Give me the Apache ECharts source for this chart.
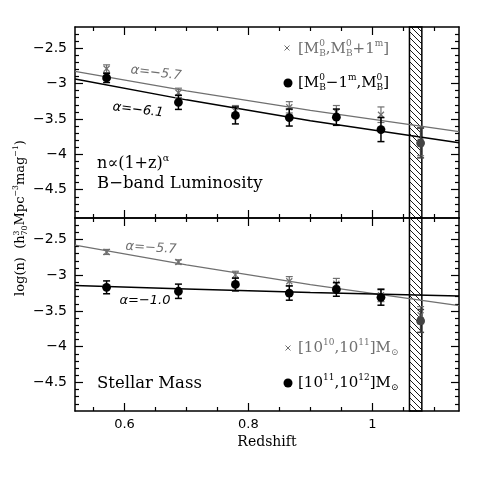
<!DOCTYPE html>
<html>
<head>
<meta charset="UTF-8">
<title>log(n) vs redshift</title>
<script src="https://cdn.jsdelivr.net/npm/echarts@6/dist/echarts.min.js"></script>
<style>
  html, body { margin: 0; background: #fff; }
  #chart { width: 485px; height: 485px; }
</style>
</head>
<body>
<div id="chart"></div>
<script>
// redshift bins
var redshift = [0.571, 0.687, 0.779, 0.866, 0.942, 1.014, 1.078];

// B-band luminosity panel
var lumBright = [-2.92, -3.265, -3.45, -3.48, -3.475, -3.65, -3.84];
var lumBrightErr = [0.065, 0.10, 0.12, 0.12, 0.115, 0.17, 0.21];
var lumFaint = [-2.79, -3.13, -3.39, -3.335, -3.40, -3.44, -3.82];
var lumFaintErr = [0.055, 0.065, 0.08, 0.08, 0.09, 0.11, 0.2];

// stellar mass panel
var massHigh = [-3.17, -3.225, -3.13, -3.25, -3.20, -3.31, -3.64];
var massHighErr = [0.09, 0.10, 0.09, 0.10, 0.095, 0.11, 0.16];
var massLow = [-2.675, -2.815, -2.995, -3.085, -3.12, -3.28, -3.56];
var massLowErr = [0.035, 0.03, 0.05, 0.065, 0.075, 0.09, 0.12];

// power law fits
var fitZ = [0.52, 0.7, 0.9, 1.14];
var lumFaintFit = [-2.827, -3.104, -3.379, -3.68];
var lumBrightFit = [-2.935, -3.23, -3.525, -3.835];
var massLowFit = [-2.58, -2.857, -3.132, -3.427];
var massHighFit = [-3.145, -3.193, -3.242, -3.29];

// incomplete redshift band
var band = [1.06, 1.08];

// ticks
var xMajor = [0.6, 0.8, 1.0];
var xMinor = [0.55, 0.65, 0.7, 0.75, 0.85, 0.9, 0.95, 1.05, 1.1];
var yMajor = [-4.5, -4, -3.5, -3, -2.5];
var yMinor = [-4.8, -4.7, -4.6, -4.4, -4.3, -4.2, -4.1, -3.9, -3.8, -3.7, -3.6,
              -3.4, -3.3, -3.2, -3.1, -2.9, -2.8, -2.7, -2.6, -2.4, -2.3];

var GREY = '#707070';
var chart = echarts.init(document.getElementById('chart'));

var hatch = document.createElement('canvas');
hatch.width = 6; hatch.height = 6;
var hc = hatch.getContext('2d');
hc.strokeStyle = '#000'; hc.lineWidth = 0.9;
hc.beginPath();
hc.moveTo(0, 0); hc.lineTo(6, 6);
hc.moveTo(-3, 3); hc.lineTo(3, 9);
hc.moveTo(3, -3); hc.lineTo(9, 3);
hc.stroke();

function xAxes(g) {
  return [
    { pos: 'bottom', len: 8, vals: xMajor, line: true, label: g === 1 },
    { pos: 'bottom', len: 4, vals: xMinor },
    { pos: 'top', len: 8, vals: xMajor, line: true },
    { pos: 'top', len: 4, vals: xMinor }
  ].map(function (a) {
    return {
      type: 'value', gridIndex: g, position: a.pos, min: 0.52, max: 1.14,
      axisLine: { show: !!a.line, onZero: false, lineStyle: { color: '#000', width: 1.5 } },
      axisTick: { show: true, inside: true, length: a.len, customValues: a.vals, lineStyle: { color: '#000', width: 1.2 } },
      axisLabel: { show: !!a.label, customValues: a.vals, margin: 7, color: '#000', fontFamily: 'DejaVu Sans', fontSize: 13 },
      splitLine: { show: false },
      name: a.label ? 'Redshift' : '', nameLocation: 'middle', nameGap: 24,
      nameTextStyle: { fontFamily: 'DejaVu Serif', fontSize: 14, color: '#000' }
    };
  });
}

function yAxes(g) {
  return [
    { pos: 'left', len: 8, vals: yMajor, line: true, label: true },
    { pos: 'left', len: 4, vals: yMinor },
    { pos: 'right', len: 8, vals: yMajor, line: true },
    { pos: 'right', len: 4, vals: yMinor }
  ].map(function (a) {
    return {
      type: 'value', gridIndex: g, position: a.pos, min: -4.9, max: -2.2,
      axisLine: { show: !!a.line, onZero: false, lineStyle: { color: '#000', width: 1.5 } },
      axisTick: { show: true, inside: true, length: a.len, customValues: a.vals, lineStyle: { color: '#000', width: 1.2 } },
      axisLabel: {
        show: !!a.label, customValues: a.vals, margin: 8, color: '#000', fontFamily: 'DejaVu Sans', fontSize: 14,
        formatter: function (v) { return String(v).replace('-', '\u2212'); }
      },
      splitLine: { show: false }
    };
  });
}

function fitLine(g, ys, color, width, withBand) {
  var s = {
    type: 'line', xAxisIndex: g * 4, yAxisIndex: g * 4, symbol: 'none', silent: true,
    data: fitZ.map(function (z, i) { return [z, ys[i]]; }),
    lineStyle: { color: color, width: width }, z: 3
  };
  if (withBand) {
    s.markArea = {
      silent: true,
      itemStyle: { color: { image: hatch, repeat: 'repeat' }, borderColor: '#000', borderWidth: 1.5 },
      data: [[{ xAxis: band[0] }, { xAxis: band[1] }]]
    };
  }
  return s;
}

function errSeries(g, ys, errs, kind, color) {
  return {
    type: 'custom', xAxisIndex: g * 4, yAxisIndex: g * 4, z: kind === 'dot' ? 6 : 5, silent: true,
    data: redshift.map(function (z, i) { return [z, ys[i], errs[i]]; }),
    renderItem: function (params, api) {
      var z = api.value(0), y = api.value(1), e = api.value(2);
      var c = api.coord([z, y]), hi = api.coord([z, y + e]), lo = api.coord([z, y - e]);
      var col = (kind === 'dot' && z > band[0]) ? '#444' : color;
      var st = { stroke: col, lineWidth: kind === 'dot' ? 1.5 : 1.2 };
      var cap = 3.5;
      var ch = [
        { type: 'line', shape: { x1: c[0], y1: hi[1], x2: c[0], y2: lo[1] }, style: st },
        { type: 'line', shape: { x1: c[0] - cap, y1: hi[1], x2: c[0] + cap, y2: hi[1] }, style: st },
        { type: 'line', shape: { x1: c[0] - cap, y1: lo[1], x2: c[0] + cap, y2: lo[1] }, style: st }
      ];
      if (kind === 'dot') {
        ch.push({ type: 'circle', shape: { cx: c[0], cy: c[1], r: 4.4 }, style: { fill: col } });
      } else {
        var s = 3;
        ch.push({ type: 'line', shape: { x1: c[0] - s, y1: c[1] - s, x2: c[0] + s, y2: c[1] + s }, style: st });
        ch.push({ type: 'line', shape: { x1: c[0] - s, y1: c[1] + s, x2: c[0] + s, y2: c[1] - s }, style: st });
      }
      return { type: 'group', children: ch };
    }
  };
}

// text with super/subscripts laid out piece by piece
var measure = document.createElement('canvas').getContext('2d');
function textGroup(x, y, parts, o) {
  var size = o.size, fam = o.family || 'DejaVu Serif', col = o.color || '#000', fst = o.fontStyle || 'normal';
  var els = [], cx = 0;
  function piece(t, px, dy) {
    measure.font = fst + ' ' + px + 'px "' + fam + '"';
    els.push({ type: 'text', x: cx, y: dy, silent: true,
      style: { text: t, fontSize: px, fontFamily: fam, fontStyle: fst, fill: col, verticalAlign: 'middle' } });
    return measure.measureText(t).width;
  }
  parts.forEach(function (p) {
    var t = p[0], k = p[1] || '';
    if (k === 'stack') {
      var ab = t.split('|'), s = size * 0.6;
      var w1 = piece(ab[0], s, -size * 0.33);
      var w2 = piece(ab[1], s, size * 0.3);
      cx += Math.max(w1, w2);
    } else if (k === 'sup') cx += piece(t, size * 0.6, -size * 0.35);
    else if (k === 'sub') cx += piece(t, size * 0.6, size * 0.3);
    else cx += piece(t, size, 0);
  });
  var shift = o.center ? -cx / 2 : 0;
  els.forEach(function (e) { e.x += shift; });
  return { type: 'group', x: x, y: y, rotation: o.rotation || 0, children: els };
}

function crossGlyph(x, y) {
  return { type: 'group', x: x, y: y, silent: true, children: [
    { type: 'line', shape: { x1: -2.5, y1: -2.5, x2: 2.5, y2: 2.5 }, style: { stroke: GREY, lineWidth: 1 } },
    { type: 'line', shape: { x1: -2.5, y1: 2.5, x2: 2.5, y2: -2.5 }, style: { stroke: GREY, lineWidth: 1 } }
  ] };
}
function dotGlyph(x, y) {
  return { type: 'circle', silent: true, shape: { cx: x, cy: y, r: 4.5 }, style: { fill: '#000' } };
}

var alphaStyle = { size: 13, family: 'DejaVu Sans', fontStyle: 'italic', center: true };

var graphics = [
  crossGlyph(287, 48),
  textGroup(298, 49, [['['], ['M'], ['0|B', 'stack'], [',M'], ['0|B', 'stack'], ['+1'], ['m', 'sup'], [']']], { size: 15, color: GREY }),
  dotGlyph(288, 83),
  textGroup(298, 83, [['['], ['M'], ['0|B', 'stack'], ['\u22121'], ['m', 'sup'], [',M'], ['0|B', 'stack'], [']']], { size: 15 }),
  crossGlyph(288, 348),
  textGroup(298, 348, [['[10'], ['10', 'sup'], [',10'], ['11', 'sup'], [']M'], ['\u2299', 'sub']], { size: 15, color: GREY }),
  dotGlyph(288, 383),
  textGroup(298, 383, [['[10'], ['11', 'sup'], [',10'], ['12', 'sup'], [']M'], ['\u2299', 'sub']], { size: 15 }),
  textGroup(97, 164, [['n\u221d(1+z)'], ['\u03b1', 'sup']], { size: 16 }),
  textGroup(97, 184, [['B\u2212band Luminosity']], { size: 16.5 }),
  textGroup(97, 384, [['Stellar Mass']], { size: 16.5 }),
  textGroup(156, 73, [['\u03b1=\u22125.7']], Object.assign({ color: GREY, rotation: -0.12 }, alphaStyle)),
  textGroup(138, 110, [['\u03b1=\u22126.1']], Object.assign({ rotation: -0.12 }, alphaStyle)),
  textGroup(151, 248, [['\u03b1=\u22125.7']], Object.assign({ color: GREY, rotation: -0.06 }, alphaStyle)),
  textGroup(145, 301, [['\u03b1=\u22121.0']], alphaStyle),
  textGroup(21, 218, [['log(n)  (h'], ['3|70', 'stack'], ['Mpc'], ['\u22123', 'sup'], ['mag'], ['\u22121', 'sup'], [')']],
    { size: 13, center: true, rotation: Math.PI / 2 })
];

var option = {
  animation: false,
  backgroundColor: '#fff',
  grid: [
    { left: 75, top: 27, width: 384, height: 191 },
    { left: 75, top: 218, width: 384, height: 193 }
  ],
  xAxis: xAxes(0).concat(xAxes(1)),
  yAxis: yAxes(0).concat(yAxes(1)),
  series: [
    fitLine(0, lumFaintFit, GREY, 1.2, true),
    fitLine(0, lumBrightFit, '#000', 1.5, false),
    errSeries(0, lumFaint, lumFaintErr, 'cross', GREY),
    errSeries(0, lumBright, lumBrightErr, 'dot', '#000'),
    fitLine(1, massLowFit, GREY, 1.2, true),
    fitLine(1, massHighFit, '#000', 1.5, false),
    errSeries(1, massLow, massLowErr, 'cross', GREY),
    errSeries(1, massHigh, massHighErr, 'dot', '#000')
  ],
  graphic: graphics
};
chart.setOption(option);
</script>
</body>
</html>
